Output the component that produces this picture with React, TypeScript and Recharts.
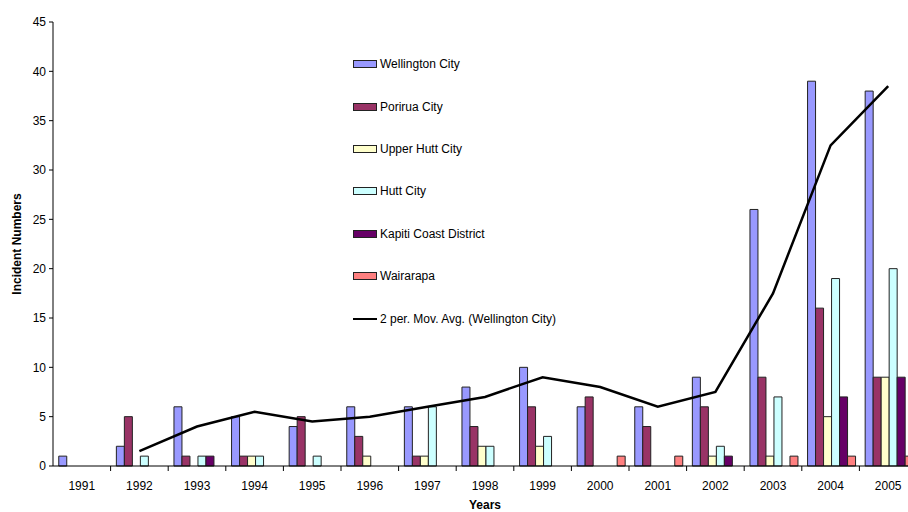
import React from 'react'
import { ComposedChart, Bar, Line, XAxis, YAxis, Legend } from 'recharts'

const years = ['1991', '1992', '1993', '1994', '1995', '1996', '1997', '1998', '1999', '2000', '2001', '2002', '2003', '2004', '2005']
const wellington = [1, 2, 6, 5, 4, 6, 6, 8, 10, 6, 6, 9, 26, 39, 38]
const porirua = [0, 5, 1, 1, 5, 3, 1, 4, 6, 7, 4, 6, 9, 16, 9]
const upperHutt = [0, 0, 0, 1, 0, 1, 1, 2, 2, 0, 0, 1, 1, 5, 9]
const huttCity = [0, 1, 1, 1, 1, 0, 6, 2, 3, 0, 0, 2, 7, 19, 20]
const kapiti = [0, 0, 1, 0, 0, 0, 0, 0, 0, 0, 0, 1, 0, 7, 9]
const wairarapa = [0, 0, 0, 0, 0, 0, 0, 0, 0, 1, 1, 0, 1, 1, 1]
const movAvg = [null, 1.5, 4, 5.5, 4.5, 5, 6, 7, 9, 8, 6, 7.5, 17.5, 32.5, 38.5]
const yTicks = [0, 5, 10, 15, 20, 25, 30, 35, 40, 45]

const series = [
  { key: 'wellington', name: 'Wellington City', color: '#9999FF' },
  { key: 'porirua', name: 'Porirua City', color: '#993366' },
  { key: 'upperHutt', name: 'Upper Hutt City', color: '#FFFFCC' },
  { key: 'huttCity', name: 'Hutt City', color: '#CCFFFF' },
  { key: 'kapiti', name: 'Kapiti Coast District', color: '#660066' },
  { key: 'wairarapa', name: 'Wairarapa', color: '#FF8080' },
]

const data = years.map((year, i) => ({
  year,
  wellington: wellington[i],
  porirua: porirua[i],
  upperHutt: upperHutt[i],
  huttCity: huttCity[i],
  kapiti: kapiti[i],
  wairarapa: wairarapa[i],
  movAvg: movAvg[i],
}))

const FONT = '"Liberation Sans", Arial, sans-serif'
const CHART_W = 918
const CHART_H = 512
const Y_AXIS_W = 53
const RIGHT = 1
const AXIS_Y = 466
const BAND = (CHART_W - Y_AXIS_W - RIGHT) / years.length

const YearTick = (props: any) => {
  const { x, payload } = props
  return (
    <g>
      <line x1={x + BAND / 2} x2={x + BAND / 2} y1={AXIS_Y} y2={AXIS_Y + 5} stroke="#000" />
      <text x={x} y={AXIS_Y + 24} textAnchor="middle" fontSize={12} fontFamily={FONT} fill="#000">
        {payload.value}
      </text>
    </g>
  )
}

const renderLegend = () => (
  <div style={{ fontFamily: FONT, fontSize: 12, color: '#000' }}>
    {series.map((s) => (
      <div key={s.key} style={{ height: 42.4, display: 'flex', alignItems: 'center' }}>
        <span style={{ width: 22, height: 6, background: s.color, border: '1px solid #222', marginRight: 3 }} />
        <span>{s.name}</span>
      </div>
    ))}
    <div style={{ height: 42.4, display: 'flex', alignItems: 'center' }}>
      <span style={{ width: 24, height: 2, background: '#000', marginRight: 3 }} />
      <span>2 per. Mov. Avg. (Wellington City)</span>
    </div>
  </div>
)

export default function App() {
  return (
    <div style={{ position: 'absolute', left: 0, top: 0, width: 908, height: 512, overflow: 'hidden', background: '#fff' }}>
      <ComposedChart
        width={CHART_W}
        height={CHART_H}
        data={data}
        margin={{ top: 22, right: RIGHT, left: 0, bottom: 16 }}
        barCategoryGap="10%"
        barGap={0}
      >
        <XAxis
          dataKey="year"
          height={30}
          interval={0}
          tickLine={false}
          axisLine={{ stroke: '#000' }}
          tick={<YearTick />}
          label={{ value: 'Years', position: 'insideBottom', offset: -13, fontSize: 12, fontWeight: 'bold', fontFamily: FONT, fill: '#000' }}
        />
        <YAxis
          width={Y_AXIS_W}
          domain={[0, 45]}
          ticks={yTicks}
          interval={0}
          tickSize={4}
          tickMargin={3}
          axisLine={{ stroke: '#000' }}
          tickLine={{ stroke: '#000' }}
          tick={{ fontSize: 12, fontFamily: FONT, fill: '#000' }}
          label={{ value: 'Incident Numbers', angle: -90, position: 'insideLeft', offset: 17, fontSize: 12, fontWeight: 'bold', fontFamily: FONT, fill: '#000', style: { textAnchor: 'middle' } }}
        />
        <Legend
          layout="vertical"
          align="center"
          verticalAlign="middle"
          content={renderLegend}
          wrapperStyle={{ left: 353, top: 43, width: 300 }}
        />
        {series.map((s) => (
          <Bar key={s.key} dataKey={s.key} name={s.name} fill={s.color} stroke="#222" strokeWidth={1} isAnimationActive={false} />
        ))}
        <Line
          type="linear"
          dataKey="movAvg"
          name="2 per. Mov. Avg. (Wellington City)"
          stroke="#000"
          strokeWidth={2.5}
          dot={false}
          activeDot={false}
          isAnimationActive={false}
        />
      </ComposedChart>
    </div>
  )
}
